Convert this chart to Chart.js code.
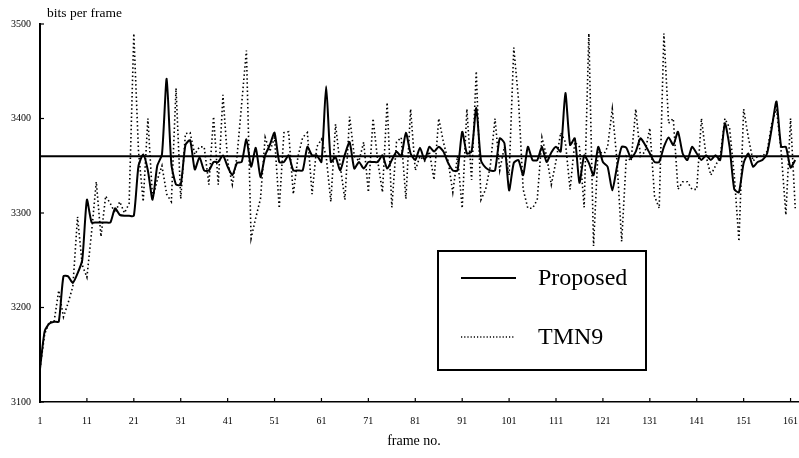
<!DOCTYPE html>
<html>
<head>
<meta charset="utf-8">
<script src="https://cdn.jsdelivr.net/npm/chart.js@4.4.1/dist/chart.umd.min.js"></script>
<style>
  html, body { margin: 0; padding: 0; background: #ffffff; }
  #wrap { width: 799px; height: 458px; }
</style>
</head>
<body>
<div id="wrap"><canvas id="c" width="799" height="458"></canvas></div>
<script>
// ---- data ----
const frames = Array.from({ length: 162 }, (_, i) => i + 1);

const proposed = [
  3135, 3175, 3183, 3185, 3185, 3233, 3233, 3226, 3236, 3250,
  3314, 3290, 3290, 3290, 3290, 3290, 3305, 3298, 3297, 3297,
  3297, 3350, 3362, 3345, 3314, 3350, 3362, 3442, 3352, 3330,
  3330, 3372, 3377, 3346, 3359, 3345, 3345, 3354, 3354, 3361,
  3349, 3340, 3353, 3354, 3378, 3349, 3369, 3338, 3361, 3372,
  3385, 3354, 3354, 3361, 3345, 3345, 3345, 3370, 3361, 3361,
  3354, 3434, 3354, 3359, 3345, 3362, 3375, 3347, 3354, 3347,
  3354, 3354, 3354, 3361, 3347, 3356, 3365, 3360, 3385, 3363,
  3356, 3369, 3356, 3370, 3365, 3370, 3365, 3353, 3345, 3345,
  3386, 3363, 3365, 3411, 3356, 3348, 3345, 3345, 3379, 3374,
  3324, 3353, 3356, 3340, 3370, 3356, 3356, 3370, 3354, 3364,
  3370, 3365, 3427, 3372, 3379, 3332, 3361, 3353, 3340, 3370,
  3354, 3349, 3324, 3349, 3370, 3369, 3358, 3365, 3379, 3372,
  3363, 3354, 3354, 3370, 3380, 3372, 3386, 3363, 3356, 3370,
  3363, 3356, 3361, 3356, 3361, 3356, 3395, 3370, 3325, 3322,
  3353, 3363, 3349, 3354, 3356, 3363, 3390, 3418, 3370, 3370,
  3348, 3356
];

const tmn9 = [
  3135, 3172, 3185, 3185, 3218, 3190, 3205, 3222, 3296, 3245,
  3232, 3280, 3333, 3275, 3318, 3310, 3300, 3312, 3300, 3310,
  3490, 3365, 3312, 3400, 3315, 3335, 3350, 3320, 3312, 3432,
  3315, 3384, 3385, 3362, 3370, 3370, 3330, 3402, 3330, 3425,
  3355, 3330, 3360, 3416, 3472, 3273, 3295, 3315, 3380, 3365,
  3380, 3305, 3385, 3386, 3320, 3360, 3380, 3385, 3320, 3370,
  3378, 3360, 3312, 3394, 3350, 3314, 3402, 3360, 3355, 3375,
  3322, 3400, 3355, 3322, 3417, 3306, 3375, 3380, 3315, 3410,
  3345, 3360, 3355, 3365, 3335, 3400, 3375, 3355, 3322, 3360,
  3305, 3410, 3335, 3450, 3314, 3325, 3350, 3400, 3345, 3370,
  3340, 3475, 3420, 3325, 3305, 3305, 3314, 3380, 3360, 3330,
  3355, 3385, 3375, 3325, 3375, 3370, 3306, 3490, 3265, 3370,
  3360, 3370, 3410, 3355, 3270, 3360, 3355, 3410, 3360, 3365,
  3390, 3318, 3305, 3490, 3395, 3400, 3325, 3333, 3333, 3325,
  3325, 3400, 3360, 3340, 3350, 3360, 3400, 3390, 3340, 3270,
  3410, 3380, 3355, 3360, 3360, 3365, 3395, 3410, 3365, 3298,
  3400, 3305
];

const targetBits = 3360;
const xTickValues = [1, 11, 21, 31, 41, 51, 61, 71, 81, 91, 101, 111, 121, 131, 141, 151, 161];
const yTickValues = [3100, 3200, 3300, 3400, 3500];
const seriesNames = ['Proposed', 'TMN9'];
const yAxisTitle = 'bits per frame';
const xAxisTitle = 'frame no.';

const X_MIN = 1, X_MAX = 162.8, Y_MIN = 3100, Y_MAX = 3500;
const SERIF = '"Liberation Serif", "DejaVu Serif", serif';

const toPoints = arr => frames.map((f, i) => ({ x: f, y: arr[i] }));

// ---- decorations: axis titles, inner tick marks, boxed legend ----
const decor = {
  id: 'decor',
  afterDraw(chart) {
    const ctx = chart.ctx;
    const xs = chart.scales.x, ys = chart.scales.y;
    const area = chart.chartArea;
    ctx.save();
    ctx.strokeStyle = '#000';
    ctx.fillStyle = '#000';
    ctx.lineWidth = 1.2;
    // inner tick marks
    xTickValues.forEach(v => {
      const px = xs.getPixelForValue(v);
      ctx.beginPath(); ctx.moveTo(px, area.bottom); ctx.lineTo(px, area.bottom - 4); ctx.stroke();
    });
    yTickValues.forEach(v => {
      const py = ys.getPixelForValue(v);
      ctx.beginPath(); ctx.moveTo(area.left, py); ctx.lineTo(area.left + 4, py); ctx.stroke();
    });
    // axis titles
    ctx.font = '13.5px ' + SERIF;
    ctx.textBaseline = 'middle';
    ctx.textAlign = 'left';
    ctx.fillText(yAxisTitle, 47, 13);
    ctx.textAlign = 'center';
    ctx.font = '14px ' + SERIF;
    ctx.fillText(xAxisTitle, 414, 441);

    // legend box
    const bx = 438, by = 251, bw = 208, bh = 119;
    ctx.fillStyle = '#fff';
    ctx.fillRect(bx, by, bw, bh);
    ctx.lineWidth = 2;
    ctx.strokeRect(bx, by, bw, bh);
    ctx.fillStyle = '#000';
    ctx.lineWidth = 2;
    ctx.beginPath(); ctx.moveTo(461, 278); ctx.lineTo(516, 278); ctx.stroke();
    ctx.lineWidth = 1.3;
    ctx.setLineDash([1.2, 2]);
    ctx.beginPath(); ctx.moveTo(461, 337); ctx.lineTo(515, 337); ctx.stroke();
    ctx.setLineDash([]);
    ctx.font = '24px ' + SERIF;
    ctx.textAlign = 'left';
    ctx.textBaseline = 'middle';
    ctx.fillText(seriesNames[0], 538, 279);
    ctx.fillText(seriesNames[1], 538, 338);
    ctx.restore();
  }
};

new Chart(document.getElementById('c'), {
  type: 'line',
  data: {
    datasets: [
      {
        label: seriesNames[0],
        data: toPoints(proposed),
        borderColor: '#000',
        borderWidth: 2,
        pointRadius: 0,
        tension: 0.2,
        fill: false
      },
      {
        label: seriesNames[1],
        data: toPoints(tmn9),
        borderColor: '#000',
        borderWidth: 1.6,
        borderDash: [1.5, 2.6],
        pointRadius: 0,
        tension: 0,
        fill: false
      },
      {
        label: 'target',
        data: [{ x: X_MIN, y: targetBits }, { x: X_MAX, y: targetBits }],
        borderColor: '#000',
        borderWidth: 2,
        pointRadius: 0,
        fill: false
      }
    ]
  },
  options: {
    responsive: false,
    animation: false,
    devicePixelRatio: 1,
    layout: { padding: { top: 24, right: 0, left: 0, bottom: 0 } },
    plugins: { legend: { display: false }, tooltip: { enabled: false }, title: { display: false } },
    scales: {
      x: {
        type: 'linear',
        min: X_MIN,
        max: X_MAX,
        afterFit: s => { s.height = 56; s.paddingLeft = 0; s.paddingRight = 0; },
        afterBuildTicks: axis => { axis.ticks = xTickValues.map(v => ({ value: v })); },
        grid: { display: false, drawTicks: false },
        border: { display: true, color: '#000', width: 1.5 },
        ticks: {
          autoSkip: false,
          maxRotation: 0,
          padding: 13,
          color: '#000',
          font: { family: SERIF, size: 10 },
          callback: v => String(v)
        }
      },
      y: {
        type: 'linear',
        min: Y_MIN,
        max: Y_MAX,
        afterFit: s => { s.width = 40; s.paddingTop = 0; s.paddingBottom = 0; },
        afterBuildTicks: axis => { axis.ticks = yTickValues.map(v => ({ value: v })); },
        grid: { display: false, drawTicks: false },
        border: { display: true, color: '#000', width: 2 },
        ticks: {
          padding: 9,
          color: '#000',
          font: { family: SERIF, size: 10 },
          callback: v => String(v)
        }
      }
    }
  },
  plugins: [decor]
});
</script>
</body>
</html>
